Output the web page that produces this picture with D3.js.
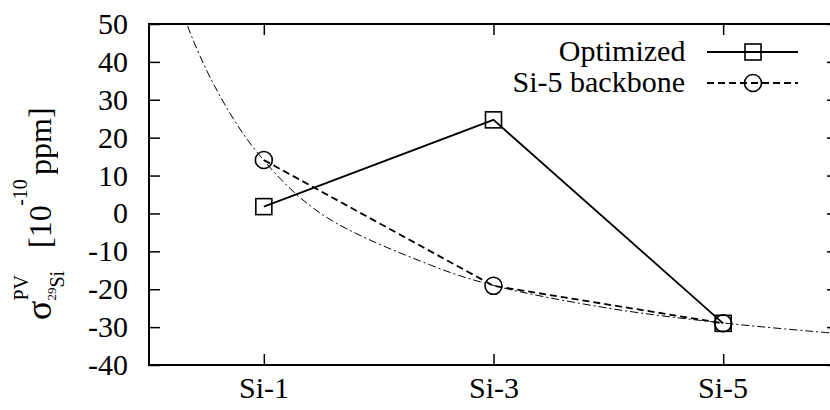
<!DOCTYPE html>
<html><head><meta charset="utf-8"><script src="https://cdn.jsdelivr.net/npm/d3@7"></script></head>
<body style="margin:0;background:#fff">
<div id="wrap" style="position:relative;width:830px;height:410px;overflow:hidden">
<svg id="s" width="830" height="410" style="position:absolute;left:0;top:0"></svg>
<div id="layer" style="position:absolute;left:0;top:0;width:830px;height:410px"></div>
</div>
<script>
// ---- data ----
const categories = ["Si-1", "Si-3", "Si-5"];
const categoryX = [1, 3, 5];
const optimized = [1.8, 24.7, -29.0];
const backbone = [14.1, -19.1, -29.0];
const seriesNames = ["Optimized", "Si-5 backbone"];
const yTicks = [-40, -30, -20, -10, 0, 10, 20, 30, 40, 50];
// fitted guide curve
const fitX = [0.30, 0.33, 0.575, 0.94, 1.49, 2.45, 3.0, 4.0, 5.0, 6.0];
const fitY = [53.5, 50.0, 33.4, 16.2, 0.1, -13.6, -19.0, -25.0, -28.9, -31.7];

const s = d3.select("#s");
const layer = document.getElementById("layer");
const pL = 149, pR = 838, pT = 24, pB = 365;
const xs = d3.scaleLinear().domain([0, 6]).range([pL, pR]);
const ys = d3.scaleLinear().domain([-40, 50]).range([pB, pT]);
const FS = 30;

// HTML text placed at a baseline point; set at <=24px and scaled by CSS transform
function label(parent, xx, yy, str, size, anchor) {
  const base = Math.min(size, 24), k = size / base;
  const d = document.createElement("div");
  d.style.cssText = 'position:absolute;left:0;top:0;white-space:nowrap;font-family:"Liberation Serif";' +
    'font-size:' + base + 'px;line-height:normal;color:#000;';
  const sp = document.createElement("span");
  sp.textContent = str;
  const mk = document.createElement("span");
  mk.style.cssText = "display:inline-block;width:0;height:0;";
  d.appendChild(sp);
  d.appendChild(mk);
  parent.appendChild(d);
  const bo = mk.offsetTop;
  const w = sp.offsetWidth;
  const shift = anchor === "end" ? -w : (anchor === "middle" ? -w / 2 : 0);
  d.style.left = xx + "px";
  d.style.top = (yy - bo) + "px";
  d.style.transformOrigin = "0px " + bo + "px";
  d.style.transform = "scale(" + k + ") translateX(" + shift + "px)";
  return { w: w * k };
}

s.append("defs").append("clipPath").attr("id", "plotclip")
  .append("rect").attr("x", pL).attr("y", pT)
  .attr("width", pR - pL).attr("height", pB - pT);

function tickLines(g) {
  g.select(".domain").remove();
  g.selectAll(".tick line").attr("stroke", "#000").attr("stroke-width", 1.5);
  g.selectAll("text").remove();
}
s.append("g").attr("transform", `translate(${pL},0)`)
  .call(d3.axisLeft(ys).tickValues(yTicks).tickSize(-11)).call(tickLines);
s.append("g").attr("transform", `translate(${pR},0)`)
  .call(d3.axisRight(ys).tickValues(yTicks).tickSize(-11)).call(tickLines);
s.append("g").attr("transform", `translate(0,${pB})`)
  .call(d3.axisBottom(xs).tickValues(categoryX).tickSize(-11)).call(tickLines);
s.append("g").attr("transform", `translate(0,${pT})`)
  .call(d3.axisTop(xs).tickValues(categoryX).tickSize(-11)).call(tickLines);

yTicks.forEach(v => label(layer, pL - 21, ys(v) + 10, String(v), FS, "end"));
categoryX.forEach((v, i) => label(layer, xs(v), pB + 33, categories[i], FS, "middle"));

s.append("rect").attr("x", pL).attr("y", pT)
  .attr("width", pR - pL).attr("height", pB - pT)
  .attr("fill", "none").attr("stroke", "#000").attr("stroke-width", 2);

const fitPts = fitX.map((v, i) => [v, fitY[i]]);
s.append("path").datum(fitPts)
  .attr("clip-path", "url(#plotclip)")
  .attr("d", d3.line().x(d => xs(d[0])).y(d => ys(d[1])).curve(d3.curveCatmullRom.alpha(0.5)))
  .attr("fill", "none").attr("stroke", "#000").attr("stroke-width", 1)
  .attr("stroke-dasharray", "8,3,2,3");

const line = d3.line().x(d => xs(d[0])).y(d => ys(d[1]));
const optPts = categoryX.map((v, i) => [v, optimized[i]]);
const bbPts = categoryX.map((v, i) => [v, backbone[i]]);

s.append("path").datum(bbPts).attr("d", line)
  .attr("fill", "none").attr("stroke", "#000").attr("stroke-width", 1.8)
  .attr("stroke-dasharray", "7,4");
s.append("path").datum(optPts).attr("d", line)
  .attr("fill", "none").attr("stroke", "#000").attr("stroke-width", 1.8);

const SQ = 16, R = 8.5;
s.selectAll("rect.opt").data(optPts).join("rect").attr("class", "opt")
  .attr("x", d => xs(d[0]) - SQ / 2).attr("y", d => ys(d[1]) - SQ / 2)
  .attr("width", SQ).attr("height", SQ)
  .attr("fill", "none").attr("stroke", "#000").attr("stroke-width", 1.6);
s.selectAll("circle.bb").data(bbPts).join("circle").attr("class", "bb")
  .attr("cx", d => xs(d[0])).attr("cy", d => ys(d[1])).attr("r", R)
  .attr("fill", "none").attr("stroke", "#000").attr("stroke-width", 1.6);

const legTextX = 685, legX1 = 707, legX2 = 798, legMid = 753;
const rows = [52, 83];
seriesNames.forEach((name, i) => {
  const ry = rows[i];
  label(layer, legTextX, ry + 9, name, FS, "end");
  s.append("line").attr("x1", legX1).attr("x2", legX2).attr("y1", ry).attr("y2", ry)
    .attr("stroke", "#000").attr("stroke-width", 1.8)
    .attr("stroke-dasharray", i === 0 ? null : "7,4");
  if (i === 0) {
    s.append("rect").attr("x", legMid - SQ / 2).attr("y", ry - SQ / 2)
      .attr("width", SQ).attr("height", SQ)
      .attr("fill", "none").attr("stroke", "#000").attr("stroke-width", 1.6);
  } else {
    s.append("circle").attr("cx", legMid).attr("cy", ry).attr("r", R)
      .attr("fill", "none").attr("stroke", "#000").attr("stroke-width", 1.6);
  }
});

// y-axis label (rotated container)
const lab = document.createElement("div");
lab.style.cssText = "position:absolute;left:51px;top:320px;width:0;height:0;transform-origin:0 0;transform:rotate(-90deg);";
layer.appendChild(lab);
const wSig = label(lab, 0, 0, "σ", 36).w;
const wPV = label(lab, wSig, -23, "PV", 20).w;
const w29 = label(lab, wSig, 5, "29", 13).w;
const wSi = label(lab, wSig + w29, 13, "Si", 20).w;
const wSub = Math.max(wPV, w29 + wSi);
const x0 = wSig + wSub + 22;
const wTen = label(lab, x0, 0, "[10", 32).w;
const wEx = label(lab, x0 + wTen, -24, "-10", 20).w;
label(lab, x0 + wTen + wEx + 4, 0, "ppm]", 32);
</script></body></html>
